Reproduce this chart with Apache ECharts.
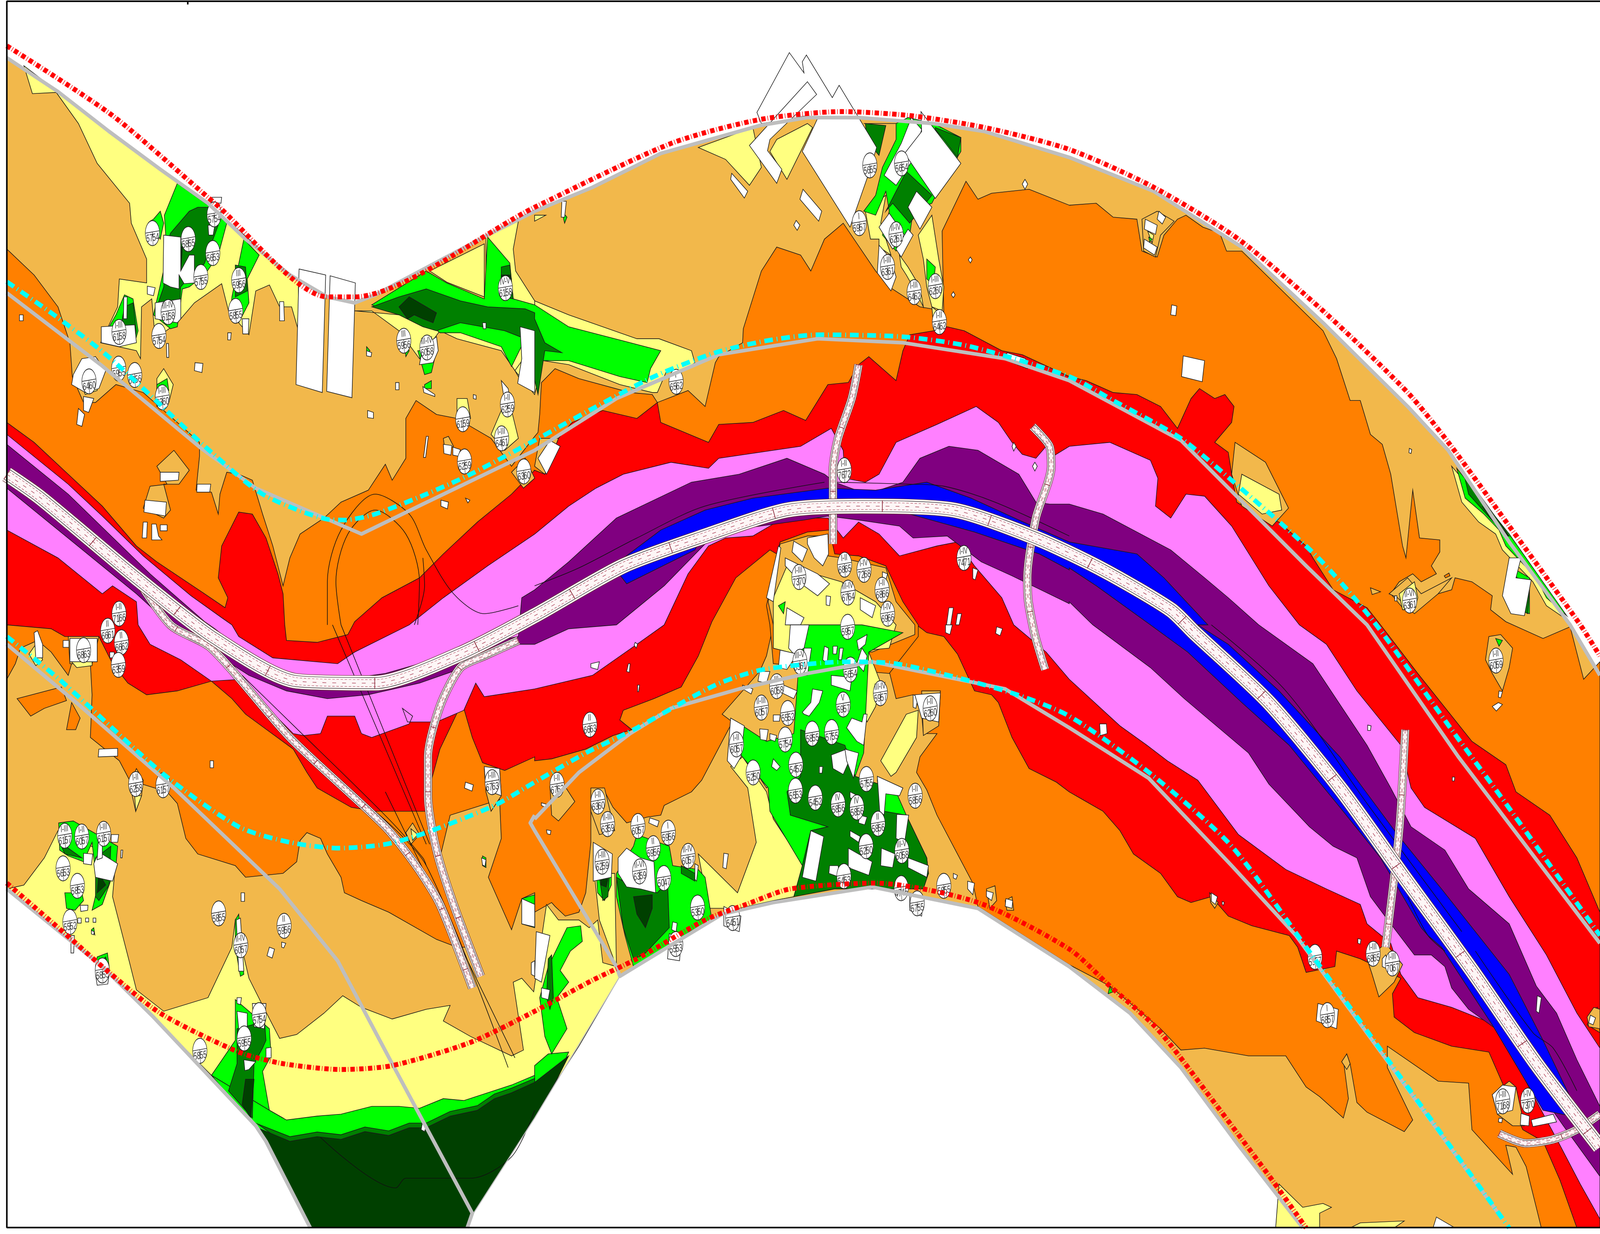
<!DOCTYPE html>
<html><head><meta charset="utf-8">
<style>html,body{margin:0;padding:0;background:#fff;overflow:hidden}#c{width:100vw;height:100vh}</style>
<script src="https://cdn.jsdelivr.net/npm/echarts@6/dist/echarts.min.js"></script>
</head><body><div id="c"></div>
<script>
// Map contours, traced by sheet: a,b,c = upper left/mid/right, d,e,f = lower left/mid/right.
const sandBase=[
 ['a',20,145,170,230,320,330,470,425,610,510,720,600,850,690,960,745,1040,760,1100,740,1320,640,1430,590,1568,530,'b',170,470,370,385,660,315,800,295,950,295,1170,310,1320,330,1568,395,'c',250,480,510,620,750,810,1000,1020,1120,1130,1300,1360,1480,1568,'f',1568,130,1568,1553,690,1553,500,1340,330,1140,180,1000,0,875,'e',1300,730,990,675,700,715,550,745,390,830,250,905,0,1270,'d',1385,1520,1370,1553,910,1553,780,1330,750,1290,600,1150,450,1010,300,880,20,680]
];
const orangeMain=[
 ['a',20,625,100,690,170,770,205,860,212,945,245,1010,280,1010,340,965,420,985,520,1060,585,1110,585,1145,575,1230,620,1235,640,1290,645,1240,665,1185,700,1190,740,1205,770,1290,800,1370,830,1470,850,1400,880,1340,950,1300,1000,1260,1080,1230,1130,1165,1150,1205,1190,1150,1190,1050,1220,1005,1280,1040,1340,1050,1440,1100,1500,1170,1568,1095,
  'b',10,1085,15,1040,20,960,60,925,130,950,280,985,345,990,360,1010,420,990,450,980,500,1020,530,910,540,895,610,860,612,825,665,680,710,620,780,640,810,680,850,600,905,560,1000,680,1040,720,1130,770,1165,775,1200,790,1195,580,1265,455,1300,500,1340,485,1450,475,1568,515,
  'c',0,515,80,510,130,545,200,550,215,630,260,645,280,590,320,550,345,540,395,570,445,585,465,630,510,630,750,830,790,900,830,1005,860,1005,890,1090,925,1115,950,1190,985,1370,995,1400,1015,1230,1035,1350,1095,1355,1095,1385,1070,1420,1085,1440,1040,1460,1015,1440,975,1460,950,1490,990,1530,1020,1535,1090,1490,1130,1480,1140,1450,1190,1460,1250,1495,1245,1530,1290,1560,
  'f',1400,35,1480,5,1520,140,1568,95,1568,1553,1395,1553,1350,1395,1320,1345,1290,1340,1310,1415,1190,1300,1180,1180,1090,1175,940,1085,940,1140,1015,1275,990,1305,880,1255,850,1230,830,1130,820,1105,810,1120,825,1220,810,1270,740,1215,700,1190,640,1110,530,1110,400,1090,330,1095,270,1040,120,930,0,875,
  'e',1300,725,1285,665,1240,590,1180,490,1150,425,1120,380,1130,340,1180,280,1140,280,1135,230,1110,180,1060,190,1040,120,1050,100,700,0,680,80,660,120,550,230,580,250,490,400,460,430,380,465,370,490,330,495,270,510,230,470,200,420,175,430,165,470,165,560,150,690,130,740,90,750,60,725,50,715,0,740,
  'd',1568,690,1530,705,1500,785,1432,650,1470,550,1465,450,1320,490,1290,600,1370,830,1340,830,1280,810,1140,740,1060,710,1010,690,1000,650,960,590,940,550,900,535,880,555,870,610,830,640,720,650,690,620,580,590,545,550,520,460,490,430,380,400,350,350,265,290,270,180,265,100,210,100,200,130,150,70,110,40,60,60,45,100,20,140]
];
const redMain=[
 ['a',20,1060,100,1110,200,1190,300,1270,400,1370,460,1410,600,1490,660,1525,668,1500,640,1450,650,1370,700,1285,740,1290,780,1350,815,1440,830,1490,835,1568,'d',840,40,930,45,1020,25,'a',1040,1560,1120,1500,1230,1450,1300,1390,1400,1310,1500,1240,1568,1180,
  'b',0,1180,30,1190,70,1100,110,1060,200,1030,300,1050,360,1010,370,1060,510,1110,540,1065,640,1060,730,1030,795,1055,860,965,920,960,950,915,980,895,1060,955,1080,880,1100,840,1170,830,1210,820,1260,830,1370,880,1430,890,1568,945,
  'c',0,945,50,955,130,985,200,990,270,1020,320,1075,360,1000,385,975,430,1000,460,990,487,1020,480,1060,430,1110,470,1135,480,1190,495,1260,550,1290,620,1310,700,1370,720,1400,780,1480,880,1525,'f',920,0,1030,125,1190,300,1290,360,1320,430,1420,490,1500,600,1568,740,1568,1553,1500,1553,1450,1430,1400,1330,1340,1300,1240,1100,1130,1085,1020,1050,960,1010,955,950,980,910,860,860,790,840,785,880,700,895,675,830,650,800,540,775,470,750,420,700,360,715,320,700,270,640,190,590,150,530,100,480,40,450,0,430,
  'e',1530,405,1450,370,1400,290,1360,200,1340,180,1290,170,1240,75,1200,30,1150,20,1120,0,'b',1000,1500,850,1460,690,1380,590,1450,520,1560,'e',480,80,430,160,350,190,260,220,250,245,285,270,230,285,150,320,50,345,0,350,
  'd',1568,340,1480,375,1415,355,1385,290,1355,200,1290,320,1265,400,1265,480,1100,480,1030,470,930,420,900,380,860,320,720,230,680,190,620,145,520,170,430,180,375,150,330,100,290,30,190,30,150,10,20,0]
];
const pinkMain=[
 ['a',20,1090,200,1215,300,1295,420,1395,560,1495,650,1550,680,1568,'d',700,30,800,85,990,100,1040,70,1200,0,'a',1300,1500,1430,1420,1568,1340,'b',100,1270,180,1225,260,1190,400,1160,510,1175,540,1150,700,1130,780,1120,870,1075,905,1130,910,1200,970,1210,1010,1190,1060,1110,1180,1065,1295,1020,1360,1060,1400,1110,1430,1140,1470,1150,1500,1120,1520,1145,1568,1120,
  'c',120,1110,240,1155,262,1200,255,1270,300,1300,345,1240,400,1245,480,1320,590,1470,680,1568,'f',680,0,760,50,850,170,980,310,1010,420,1050,470,1200,550,1300,700,1410,850,1500,1000,1568,1090,1568,1530,1510,1440,1450,1340,1260,1030,1130,985,1030,960,980,900,950,820,880,770,860,720,760,680,640,630,500,540,380,400,290,350,230,310,150,260,0,140,
  'e',1500,70,1405,0,'b',1370,1500,1290,1420,1240,1360,1180,1370,1070,1395,1010,1340,950,1310,905,1350,860,1300,790,1300,710,1310,640,1345,560,1350,510,1370,450,1440,380,1568,'e',300,50,170,130,0,165,
  'd',1420,185,1395,150,1360,220,1280,250,1195,250,1180,215,1210,235,1200,255,1090,290,1060,280,1040,235,960,235,940,280,890,285,860,280,780,210,710,140,620,145,530,90,440,50,405,0,'a',400,1510,330,1470,300,1490,170,1400,20,1330]
];
const purpleMain=[
 ['a',20,1115,200,1240,440,1440,600,1560,'d',630,10,760,100,870,135,1010,140,1130,125,1270,90,1400,50,1520,30,'a',1530,1500,1568,1480,'b',100,1410,240,1300,460,1210,600,1190,740,1150,850,1190,880,1210,975,1240,1080,1210,1130,1150,1215,1120,1300,1130,1420,1190,1470,1260,1510,1265,1568,1265,
  'c',100,1290,300,1380,400,1450,470,1500,560,1568,'f',560,0,720,100,880,310,950,420,1010,520,1110,580,1180,680,1300,770,1380,930,1440,1000,1500,1120,1568,1240,1568,1420,1460,1290,1260,1040,1180,990,1130,935,1110,880,1070,850,1020,850,950,770,890,700,850,600,780,570,710,520,590,410,530,330,340,190,240,110,70,0,
  'c',60,1560,0,1510,'b',1568,1515,1400,1445,1310,1410,1210,1345,1110,1350,1070,1320,950,1305,860,1295,790,1305,620,1325,500,1365,380,1470,240,1568,'e',100,10,0,50,
  'd',1520,50,1360,110,1230,150,1080,180,960,190,840,170,730,130,500,0,'a',400,1490,20,1225]
];
const blueMain=[
 ['b',230,1420,370,1330,500,1280,640,1250,860,1225,1000,1230,1150,1210,1280,1250,1420,1305,1568,1360,'c',200,1390,280,1450,410,1568,'f',380,0,470,50,620,170,800,340,970,540,1100,680,1300,900,1400,1070,1510,1270,1400,1250,1250,1030,1100,830,1060,800,1040,780,920,600,800,470,650,310,510,200,350,70,240,0,'c',80,1470,0,1425,'b',1568,1430,1480,1390,1290,1335,1100,1290,800,1280,500,1330,470,1380,270,1465]
];
const orangeIslands=[
 ['b',680,1520,720,1360,800,1335,865,1330,880,1390,950,1395,1030,1420,1080,1510,1125,1568,'e',1125,30,1040,125,700,100,690,0],
 ['d',50,190,180,160,195,195,130,215,90,235],['d',195,270,210,200,235,240,222,270],
 ['f',1530,1030,1560,985,1568,1050],['c',1108,1445,1122,1438,1125,1445,1112,1450]
];
const sandIslands=[
 ['b',685,1510,720,1365,800,1345,860,1345,860,1395,900,1400,1030,1425,1060,1510,1115,1568,'e',1115,25,990,70,780,70,700,60,700,0],
 ['b',15,1100,70,1100,30,1190,0,1170],
 ['a',460,1170,510,1130,555,1180,525,1215,480,1215,500,1280,480,1300,420,1275,440,1220,490,1215],
 ['a',1300,1100,1315,1095,1330,1120,1305,1130],['a',1500,1185,1540,1150,1568,1200,1535,1225],
 ['d',1420,370,1465,370,1470,440,1440,480,1425,430],['d',1190,535,1210,510,1230,540,1205,565],
 ['d',200,30,290,30,270,100,205,100],['d',380,410,400,370,420,400,415,440,398,480],
 ['e',1135,170,1190,170,1185,260,1140,285],['e',45,415,70,390,118,455,70,505,50,490],
 ['e',165,420,205,420,235,530,190,540,165,480],['e',1325,680,1350,672,1355,710,1335,730],['e',1380,710,1400,700,1405,735,1385,735],
 ['f',1230,90,1240,30,1275,25,1310,60,1300,110,1280,170,1250,125],
 ['f',880,860,935,820,985,875,960,920,915,958,895,900],['f',415,690,440,715,430,730,418,715],
 ['f',805,1125,820,1105,830,1130,820,1145],['f',1530,1010,1550,985,1568,990,1568,1040,1535,1035],
 ['f',1250,1210,1300,1175,1320,1190,1345,1290,1310,1290,1265,1260],
 ['c',490,1110,580,1160,648,1275,600,1320,510,1270,480,1190],['c',215,550,260,530,310,555,270,590,255,645,220,630],
 ['c',945,1490,1000,1450,1040,1490,1130,1450,1090,1490,1020,1540,970,1500],['c',890,1475,920,1485,895,1492]
];
const yellowAreas=[
 ['a',70,165,95,235,165,232,230,310,285,410,380,510,385,560,430,650,430,710,350,700,345,770,295,860,400,880,412,900,415,770,445,750,455,850,520,810,570,760,650,712,670,780,730,840,750,730,790,715,820,770,855,770,875,830,875,700,850,690,610,510,320,330,170,230],
 ['a',1260,680,1420,612,1420,745,1310,708],['a',1425,590,1520,555,1505,625,1512,680,1568,755,1568,775,1425,745],
 ['a',1040,780,1090,780,1170,830,1230,900,1290,830,1340,850,1470,880,1510,930,1530,960,1530,860,1350,800,1240,800,1170,790],
 ['a',1568,755,'b',100,790,300,850,365,850,460,880,470,910,430,935,390,925,360,985,345,985,250,965,100,915,25,905,0,990,'a',1510,930,1568,860],
 ['a',1340,1000,1370,1000,1380,1050,1340,1060],['a',1440,1090,1470,1030,1500,1030,1520,1100,1480,1130],['a',460,950,480,925,508,965,495,1010,460,1020],
 ['a',225,930,280,895,285,980,250,990],
 ['d',20,680,70,670,130,600,170,530,340,600,330,700,380,870,400,940,480,995,610,960,680,830,690,760,730,910,770,980,820,1065,870,1055,950,1000,1005,955,1060,985,1150,1015,1250,990,1320,980,1300,1020,1380,1060,1500,1110,1535,1095,1505,920,1530,910,1565,945,'e',35,720,70,760,130,760,160,780,185,760,200,870,240,880,250,905,130,1085,60,1180,0,1270,'d',1500,1250,790,1310,755,1290,620,1160,450,1010,300,880],
 ['d',85,75,105,50,125,90,105,105],['d',395,440,415,440,398,480],['d',210,95,270,95,270,105,225,110],['d',1205,525,1225,540,1210,555],
 ['b',710,350,800,310,815,320,740,450,690,380],['b',480,370,640,320,665,420,630,465,560,400],['b',0,540,33,540,0,555],
 ['b',970,530,1030,490,1015,560,1045,640,1010,620,1010,600,985,600],['b',1070,640,1095,670,1130,720,1140,770,1120,735,1090,690,1075,670],['b',1125,590,1165,540,1185,650,1200,720,1195,780,1165,770,1150,720,1140,650],['b',1165,770,1195,790,1200,830,1170,820],
 ['b',700,1500,740,1420,900,1460,1000,1510,1060,1568,'e',1040,60,790,80,700,60,700,0],
 ['e',575,365,625,420,650,560,595,690,480,590,510,730,600,730,700,710,760,700,790,620,700,500,680,430,610,340],
 ['e',1015,350,1090,230,1125,220,1120,290,1060,380,1045,390],['e',175,640,235,640,240,880,190,760],['e',610,260,650,290,700,390,680,420,620,340],
 ['e',980,70,1015,150,1000,210,975,250,950,200],
 ['c',510,1190,620,1240,628,1280,570,1290,500,1240],['c',232,580,250,590,245,610],['c',975,1490,1020,1460,1030,1500,1020,1530,985,1530],
 ['c',1130,1170,1300,1340,1470,1555,1410,1520,1370,1460,1280,1380,1260,1340,1210,1310,1160,1260],
 ['f',610,1553,620,1440,690,1500,750,1490,775,1500,740,1515,740,1553],['f',830,1553,860,1540,990,1535,960,1553]
];
const lightGreenAreas=[
 ['a',520,460,610,515,665,560,640,640,600,690,555,720,535,725,520,820,500,825,450,790,490,640,482,540],
 ['a',715,600,760,640,725,700,730,760,700,810,675,800,680,745],['a',450,550,470,530,480,560,470,600,440,555],
 ['a',340,790,365,740,390,750,405,830,395,860,310,835],['a',262,895,285,900,285,915,255,910],['a',460,965,490,950,495,980,460,985],
 ['a',1090,765,1250,680,1310,710,1420,750,1430,595,1495,660,1505,750,1568,765,'b',100,820,280,860,370,880,340,925,330,960,250,945,100,905,25,905,0,920,'a',1540,850,1500,920,1470,870,1350,835,1290,835,1240,800,1190,795],
 ['a',1075,870,1085,880,1075,888],['a',1245,965,1265,955,1265,975,1245,975],['a',1185,850,1200,880,1190,895],['a',1225,880,1280,880,1265,935,1245,940],
 ['b',965,310,1060,310,1060,350,1020,420,1000,490,965,530,1000,540,1030,480,1040,530,1020,590,1060,630,1100,590,1110,530,1165,510,1200,450,1250,380,1250,345,1170,310,1095,295,1060,310],
 ['b',1150,650,1175,670,1170,715,1150,700],['b',80,530,95,545,88,560],['b',715,1520,735,1510,730,1540],
 ['d',172,510,215,505,345,570,340,620,300,720,270,735,285,680,270,560,245,610,200,595,175,580],['d',190,690,240,690,245,710,220,735,195,730],['d',285,855,315,845,320,880,280,880],['d',690,760,700,745,715,900,705,905,690,830],['d',268,785,275,780,278,798],['d',1415,595,1425,600,1425,625,1415,620],
 ['d',690,965,790,1040,795,1110,770,1150,790,1250,830,1270,755,1290,620,1160,690,1070],['d',1530,705,1568,695,1568,780,1530,770],
 ['d',620,1160,755,1300,850,1345,1000,1335,1140,1325,1250,1305,1400,1265,1500,1220,1568,1190,1568,1160,1500,1185,1430,1205,1360,1225,1300,1220,1230,1245,1170,1240,1090,1240,1000,1260,930,1265,840,1275,790,1250],
 ['e',0,1135,40,1105,100,1100,60,1180,0,1210],
 ['e',40,880,95,780,135,775,140,815,105,840,75,890,100,920,65,960,95,1040,50,1105,30,1060,15,960],
 ['e',610,260,680,300,760,280,780,40,790,0,960,0,1080,20,980,70,965,330,940,390,780,390,745,430,750,490,860,520,810,530,785,620,690,480,685,420,600,330],
 ['e',240,640,290,570,300,540,395,570,405,620,480,630,500,650,520,760,455,790,390,830,290,880,265,800,240,700],['e',175,570,225,610,225,670,205,710,185,690],
 ['e',1005,400,1060,430,1090,490,1150,600,1155,640,1100,580,1020,490],['c',1145,1175,1300,1340,1470,1545,1410,1500,1380,1450,1290,1370,1270,1330,1225,1290,1170,1250],
 ['c',1300,1420,1360,1450,1360,1540,1300,1520],['c',235,595,245,600,238,608],['f',1260,35,1280,40,1270,55],['f',120,930,130,945,115,950]
];
const greenAreas=[
 ['a',500,585,555,530,580,520,610,520,640,565,625,600,600,660,570,700,540,710,530,720,525,800,460,770,480,720,490,610],['a',690,665,720,670,725,730,690,745],
 ['a',365,770,390,760,400,830,395,860,350,840],['a',1090,770,1170,745,1250,725,1350,755,1430,770,1540,775,1568,785,'b',0,800,30,860,80,885,30,880,10,990,'a',1540,850,1480,830,1350,810,1280,830,1240,820,1170,790],['a',1470,670,1495,665,1505,750,1470,745],
 ['b',970,310,1030,315,1010,390,975,355],['b',1175,320,1250,345,1240,395,1200,350,1175,325],['b',1030,530,1090,430,1165,490,1100,560,1050,510],
 ['d',175,560,200,575,240,600,190,590],['d',280,600,325,570,320,670,290,710,280,700],['d',290,870,310,855,318,880],
 ['d',695,1040,740,1030,775,1010,780,1070,770,1090,745,1130,740,1270,670,1200,695,1130],
 ['d',755,1285,850,1318,930,1306,1000,1313,1070,1293,1140,1303,1200,1283,1250,1283,1320,1253,1400,1238,1450,1208,1500,1193,1568,1168,1568,1190,1500,1220,1400,1265,1250,1305,1140,1325,1000,1335,850,1345],
 ['e',780,270,910,310,940,390,1010,410,1025,480,1090,490,1150,600,1155,640,1140,680,880,680,760,700,785,620,810,530,860,520,750,490,740,430,780,390],
 ['e',240,650,280,670,360,690,390,660,395,780,320,850,290,860,260,780],['e',190,650,220,640,215,700,200,710],['e',40,860,50,850,55,960,45,990,35,960],['e',430,620,470,640,470,660,430,640],
 ['c',1165,1185,1300,1345,1275,1330,1180,1240],['c',1300,1430,1360,1480,1355,1540,1310,1520]
];
const darkGreenAreas=[
 ['a',500,610,535,620,530,680,505,665],['a',1170,770,1200,745,1280,785,1270,810,1240,800,1215,790,1195,800],['a',1470,690,1495,690,1500,700,1470,700],
 ['d',720,1170,745,1170,735,1270,710,1235],['d',290,640,310,670,285,690],
 ['d',755,1295,850,1330,930,1318,1000,1325,1070,1305,1140,1315,1200,1295,1250,1295,1320,1265,1400,1250,1450,1220,1500,1205,1568,1178,'e',100,1110,60,1180,0,1270,'d',1385,1520,1370,1553,910,1553,780,1330],
 ['e',290,700,345,695,345,730,325,780,300,745],['e',195,650,215,655,210,675,195,670],
 ['c',1220,1270,1300,1345,1285,1345]
];
const mainRoad=[['a',20,1190,120,1250,400,1450,'d',630,35,870,145,1100,150,1350,75,'b',0,1545,260,1420,500,1345,740,1280,960,1270,1230,1280,1470,1350,'c',100,1430,300,1530,'f',370,20,590,200,800,420,990,650,1190,890,1380,1130,1568,1345]];
const ramps=[
 ['a',400,1450,'d',500,0,620,60,850,290,1130,520,1220,620,1290,720,1385,935],
 ['d',1520,40,1420,80,1350,110,1290,210,1255,340,1255,440,1280,580,1330,720,1410,905],
 ['b',950,915,930,1000,890,1100,875,1180,875,1365],
 ['b',1460,1070,1510,1120,1515,1170,1470,1300,1445,1450,1448,1510,'e',1468,30,1497,115],
 ['f',993,270,975,530,935,830],
 ['f',1270,1310,1350,1335,1430,1325,1500,1300,1568,1260]
];
const thinLines=[
 ['a',960,1568,960,1460,1000,1330,1100,1240,1200,1290,1250,1380,1330,1490,1420,1540,1520,1520],
 ['a',1000,1568,985,1460,1020,1340,1100,1280,1190,1340,1230,1460,1225,1568],['a',1240,1400,1245,1470,1215,1568],
 ['d',975,0,1250,565],['d',1000,0,1260,565],['d',1100,480,1250,620,1490,1140],['d',1130,430,1510,1115],['d',710,130,850,250,1140,500,1240,600,1250,620],
 ['d',940,1320,1160,1450,1190,1425,1380,1425,1500,1370,1568,1250],
 ['b',0,1470,130,1425,300,1350,500,1270,850,1210],['b',880,1210,1100,1215,1200,1220,1350,1260,1568,1345],['f',420,0,640,170,880,460,1160,790],['f',1000,700,1060,800,1110,840],['f',1200,840,1370,1050,1430,1090,1500,1200]
];
const greyLines=[
 ['a',20,145,170,230,320,330,470,425,610,510,720,600,850,690,960,745,1040,760,1100,740,1320,640,1430,590,1568,530,'b',170,470,370,385,660,315,800,295,950,295,1170,310,1320,330,1568,395,'c',250,480,510,620,750,810,1000,1020,1120,1130,1300,1360,1480,1568,'f',1568,130],
 ['a',20,735,295,915,590,1125,750,1225,1060,1340,1240,1265,1568,1130,'b',240,1000,540,890,830,850,1080,860,1380,900,1568,955,'c',330,1105,700,1420,880,1568,'f',1150,340,1568,820],
 ['d',20,50,230,205,510,420,820,680,990,865,1150,1130,1385,1515,1370,1553],
 ['d',1568,490,1555,510,1568,530,'e',240,880,250,905,390,830,550,745,700,715,990,675,1300,730,1568,880,'f',180,1000,330,1140,500,1340,690,1553],
 ['e',0,500,130,380,280,280,400,215,600,165,800,125,990,95,1380,165,1568,265,'f',235,395,480,620,670,800,1280,1530],
 ['d',20,680,300,880,450,1010,600,1150,750,1290,780,1330,910,1553]
];
const thinGrey=[['d',1385,1520,'e',0,1270,250,905]];
const cyanLines=[
 ['a',20,707,150,785,290,875,370,935,500,1040,620,1135,770,1240,960,1303,1010,1305,1100,1290,1250,1240,1380,1190,1568,1105,'b',160,1030,350,945,530,885,680,855,830,840,1080,845,1280,870,1568,945,'c',130,1005,330,1100,500,1220,730,1395,900,1560,'f',1130,270,1290,460,1568,800],
 ['d',20,30,180,145,480,385,700,520,850,560,990,575,1130,565,1250,535,1450,465,1568,405,'e',150,330,290,270,530,155,670,115,920,95,1060,100,1380,170,1568,235,'f',250,390,480,570,700,830,950,1130,1300,1553]
];
const redDashLines=[
 ['a',20,115,330,290,630,510,960,745,1040,745,1568,520,'b',400,360,660,300,900,280,1100,290,1320,320,1568,375,'c',250,470,500,600,750,780,1000,985,1120,1110,1300,1320,1510,1568,'f',1568,80],
 ['d',20,665,210,810,300,880,470,1000,700,1100,830,1130,1000,1145,1150,1135,1380,1075,1568,995,'e',170,915,300,860,500,760,620,720,750,680,1000,665,1300,715,1568,835,'f',120,930,260,1040,420,1220,600,1430,700,1553]
];
const frameLines=[[1568,0.7,6.7,0.7,6.7,686,1568,686],[184,0.7,184,2.5]];
const buildings=[
 ['a',877,675,955,690,945,985,868,965],['a',968,692,1042,710,1032,998,958,982],
 ['a',480,590,530,595,530,680,555,640,570,640,570,710,540,712,525,690,525,725,500,720,478,710],['a',455,760,530,750,530,800,520,810,455,800],['a',297,820,395,815,400,860,350,870,297,860],['a',363,745,373,745,372,800,362,800],
 ['a',240,900,280,895,310,930,290,975,250,985,210,965,215,940],['a',245,995,275,1000,260,1035,245,1030],['a',230,1025,248,1040,240,1070,225,1065],
 ['a',420,1310,432,1310,430,1350,417,1350],['a',445,1315,458,1315,465,1345,475,1355,445,1355],['a',470,1317,490,1317,490,1332,470,1332],['a',425,1255,488,1260,485,1295,422,1285],['a',470,1185,525,1185,523,1205,470,1208],['a',578,1215,618,1215,615,1235,577,1235],['a',572,910,595,912,592,935,570,930],['a',820,757,832,757,834,805,820,805],['a',710,800,730,800,728,838,712,838],['a',668,835,678,835,676,853,668,853],['a',57,790,68,790,68,805,57,805],['a',432,718,455,722,450,742,432,738],['a',488,862,494,862,495,897,489,897],
 ['a',1525,820,1568,830,1568,985,1518,962,1530,900],['a',1160,960,1170,960,1170,978,1160,978],['a',1300,1115,1325,1118,1322,1142,1302,1138],['a',1328,1122,1350,1128,1345,1145,1328,1142],['a',1293,1255,1315,1260,1312,1277,1293,1270],['a',1365,1250,1378,1255,1372,1262],['a',1250,1095,1256,1095,1248,1148,1242,1148],['a',1415,810,1425,810,1425,825,1417,825],['a',1388,990,1396,992,1396,1002,1388,1000],['a',622,495,650,495,648,510,622,508],['a',1075,880,1090,885,1088,895,1075,893],['a',1078,1030,1095,1035,1095,1050,1078,1048],['a',1240,970,1275,990,1275,995,1243,985],['a',1470,955,1490,975,1500,1020,1480,1010],['a',610,565,630,565,625,590,612,590],['a',1240,870,1280,845,1285,880,1270,910,1230,915],
 ['b',652,282,747,132,790,183,785,155,797,138,873,245,893,214,1003,370,978,440,925,570,785,380,830,297,800,290,740,300,665,310],['b',630,365,800,205,827,237,690,350,683,378,725,425,710,460],
 ['b',1105,295,1135,325,1110,400,1060,465,1025,440,1075,360],['b',1133,280,1250,410,1175,498,1085,385,1135,330],['b',1120,480,1165,520,1130,575,1095,520],['b',1040,535,1085,590,1050,625,1010,570],['b',1095,575,1110,590,1075,645,1060,625],['b',1010,615,1045,650,1060,695,1045,730,1005,685],
 ['b',578,435,625,480,615,497,575,450],['b',787,475,842,530,833,555,778,500],['b',767,553,778,565,770,578,760,565],['b',80,505,93,505,88,545,78,545],['b',1438,450,1446,462,1438,475,1430,462],['b',1278,645,1283,652,1278,660,1272,652],['b',1228,732,1233,740,1228,747,1222,740],['b',1405,1110,1412,1120,1405,1132,1400,1120],['b',1467,1160,1474,1170,1467,1182,1460,1170],['b',45,1105,75,1120,35,1190,10,1150],['b',1385,885,1440,900,1445,925,1385,905],['b',1285,1425,1300,1430,1292,1455,1285,1452],
 ['b',715,1370,722,1375,700,1510,680,1500],['b',760,1358,800,1378,785,1410,755,1385],['b',800,1350,860,1340,862,1390,845,1420,820,1400,800,1365],['b',735,1400,830,1440,865,1465,830,1495,790,1470,735,1420],['b',955,1500,1000,1520,990,1550,955,1530],['b',1215,1525,1228,1525,1220,1568,1208,1568],['b',1240,1540,1252,1540,1245,1568,1235,1568],['b',855,1495,868,1497,865,1520,855,1518],['b',740,1525,790,1550,780,1568,735,1568],['b',1020,1435,1035,1440,1030,1455,1020,1450],
 ['e',750,0,805,0,790,60,760,75,745,60],['e',720,65,770,75,740,115,715,110],['e',790,60,812,60,800,130,785,130],['e',660,120,690,120,680,150,655,145],['e',730,155,770,170,760,190,725,175],['e',700,232,720,232,718,248,700,248],['e',660,268,685,270,680,298,662,295],['e',690,280,710,285,705,300,690,295],['e',850,55,862,60,858,100,845,90],['e',875,55,888,55,885,75,875,75],['e',895,60,905,60,900,90,892,90],['e',945,40,975,25,970,50,950,65],['e',960,60,975,80,965,120,945,100],['e',965,230,975,230,965,310,945,300,915,265,930,240,960,250],['e',790,230,805,235,835,200,845,170,815,165,810,200,785,225],['e',870,130,930,135,925,170,870,155],['e',870,335,915,320,925,345,905,385,875,370],['e',910,320,950,330,935,395,915,350],['e',575,240,615,260,605,340,585,370,565,350],['e',700,345,720,365,710,375,695,365],['e',835,365,845,365,843,382,835,382],['e',1005,390,1080,420,1070,440,1030,435,1025,490,1012,480],['e',1062,488,1097,490,1085,560,1060,550],['e',810,530,848,545,825,660,785,650],['e',920,575,990,610,980,645,920,625],['e',865,620,890,620,895,650,863,640],['e',1017,575,1057,590,1050,625,1015,620],['e',1095,600,1155,620,1150,650,1095,625],['e',925,430,960,445,955,460,925,445],['e',953,490,975,495,968,515,950,510],['e',925,530,955,545,950,560,925,545],['e',1110,180,1125,185,1118,215,1110,212],['e',555,588,568,590,562,628,552,625],['e',610,155,640,165,635,178,610,165],['e',1228,640,1240,645,1236,655,1228,652],['e',1270,660,1290,665,1285,695,1270,680],['e',1325,685,1345,690,1340,710,1325,700],['e',1382,705,1402,710,1400,730,1380,725],['e',1205,0,1225,0,1218,25,1205,20],['e',1355,5,1372,10,1365,28,1352,22],['e',275,100,280,100,278,122,270,120],['e',302,155,308,155,305,172,302,172],['e',165,100,190,95,185,115,165,110],['e',295,45,302,50,298,60,292,52],['e',20,458,35,462,32,470,20,465],['e',35,528,48,530,46,540,37,538],['e',338,497,365,505,360,520,335,510],['e',245,600,270,575,310,600,350,610,355,690,310,680,270,675,245,640],['e',172,560,228,590,225,650,172,660],['e',405,765,418,768,415,790,402,785],['e',5,790,45,800,20,920,0,910],['e',20,935,45,940,40,965,20,960],['e',1100,690,1140,700,1135,750,1100,735],['e',555,725,605,750,600,790,555,775],['e',395,795,430,810,425,865,390,860],['e',1115,180,1190,175,1185,250,1135,240],['e',895,620,925,625,925,670,890,665],['e',470,615,480,620,475,660,470,655],
 ['d',290,320,345,318,345,338,288,340],['d',616,350,626,350,626,368,616,368],['d',707,690,717,690,717,712,707,712],['d',790,830,805,835,798,858,783,852],['d',826,817,838,820,832,832,826,830],['d',693,760,705,755,715,892,700,892],['d',245,588,272,590,268,618,245,615],['d',290,585,345,615,330,660,280,650,275,615],['d',300,560,300,600,285,605,288,560],['d',326,540,348,540,345,560,326,560],['d',355,580,360,580,358,600,354,600],['d',235,722,258,722,257,735,237,738],['d',228,755,238,755,238,768,228,768],['d',251,755,260,755,260,765,251,765],['d',273,755,281,755,281,766,273,766],['d',268,787,276,790,275,798,268,796],['d',185,40,202,40,202,58,185,58],['d',205,35,285,35,285,95,205,95],['d',100,20,110,15,125,50,125,85,105,85],['d',322,70,335,70,335,85,322,85],['d',695,960,708,960,705,978,695,975],['d',695,995,725,1000,725,1040,700,1040],['d',715,1120,750,1125,730,1145,718,1148],['d',780,1090,795,1088,795,1115,780,1115],['d',740,975,780,975,775,1040,745,1035],['d',1365,405,1388,412,1384,428,1362,420],['d',1530,705,1568,720,1568,778,1530,770],['d',1558,870,1568,865,1568,905,1558,900],['d',1412,600,1425,605,1422,622,1415,618],['d',1238,1285,1250,1290,1245,1305,1235,1300],['d',208,800,218,800,216,845,208,845],['d',1420,365,1465,370,1470,440,1425,425],['d',280,900,320,900,316,925,285,928],
 ['f',90,255,110,255,112,280,92,285],['f',882,258,892,260,890,272,882,272],['f',1132,392,1139,392,1138,402,1132,402],['f',420,690,438,700,432,720,420,712],['f',452,712,458,714,456,722,452,720],['f',853,808,862,810,860,822,853,820],['f',1383,955,1395,960,1388,1000,1380,995],['f',1540,1005,1555,1012,1548,1030,1535,1025],['f',735,975,795,990,790,1040,730,1020],['f',1250,1210,1280,1185,1320,1190,1310,1250,1265,1260],['f',1335,1258,1360,1265,1358,1290,1333,1288],['f',1365,1275,1430,1260,1440,1280,1370,1292],['f',1270,1270,1280,1272,1278,1282,1268,1280],['f',1075,1553,1140,1553,1085,1525],['f',1268,200,1280,205,1262,222,1250,210],['f',1270,170,1280,172,1275,188,1268,186],['f',925,860,935,850,950,890,925,880],
 ['c',225,550,260,565,255,588,222,575],['c',265,530,285,545,275,562,260,550],['c',222,600,260,620,252,640,220,622],['c',303,765,318,768,315,792,300,790],['c',337,893,400,905,393,958,332,945],['c',1005,1125,1012,1128,1010,1138,1004,1136],['c',1300,1400,1335,1400,1320,1450,1365,1455,1345,1545,1305,1540,1280,1495],['c',962,1495,968,1495,968,1508,962,1508]
];
const levelCircles=[
 ['a',447,585,'',57,54],['a',628,538,'',57,54],['a',552,600,'',58,55],['a',624,635,'',56,53],['a',589,695,'',57,55],['a',700,703,'III',59,56],['a',691,780,'',58,55],['a',493,783,'III-IV',61,58],['a',466,843,'',57,54],['a',349,833,'I-III',61,58],['a',348,925,'',59,55],['a',395,941,'',60,56],['a',261,957,'',64,60],['a',476,997,'I-III',63,60],['a',1184,855,'III',59,56],['a',1252,872,'III-IV',60,58],['a',1482,723,'IV-V',61,58],['a',1357,1052,'',61,59],['a',1488,1015,'I-II',62,59],['a',1471,1100,'I-III',64,61],['a',1362,1158,'',62,59],['a',1536,1183,'',63,60],['a',349,1540,'I-II',71,66],
 ['b',415,958,'I',65,62],['b',1187,808,'I-II',64,62],['b',1175,718,'I-III',62,60],['b',1113,733,'I-III',64,62],['b',1035,670,'I-III',63,61],['b',1060,588,'II-IV',62,61],['b',952,560,'I',59,57],['b',983,415,'',56,55],['b',1076,410,'',56,54],['b',908,1180,'I-II',76,72],['b',1259,1400,'I-IV',74,71],['b',775,1448,'I-III',73,70],['b',909,1417,'I-II',68,65],['b',966,1430,'I-IV',72,68],['b',919,1487,'III-IV',67,64],['b',1019,1480,'I-II',68,66],['b',1035,1540,'I-IV',69,66],
 ['c',1006,1507,'II-VI',63,61],
 ['d',316,15,'II',66,61],['d',356,45,'II',66,62],['d',347,103,'',63,59],['d',245,65,'',68,63],['d',398,410,'I-II',62,58],['d',478,413,'',61,57],['d',190,543,'I-III',61,57],['d',240,545,'I-II',60,57],['d',304,538,'I-III',61,57],['d',185,627,'',56,53],['d',227,672,'',58,53],['d',205,765,'',55,52],['d',641,743,'',58,55],['d',833,775,'II',59,56],['d',706,825,'II-IV',60,57],['d',300,890,'',58,55],['d',760,1005,'',57,54],['d',716,1065,'',59,55],['d',586,1097,'',58,55],['d',1443,405,'I-III',67,63],
 ['e',778,95,'III-V',63,61],['e',918,5,'',59,57],['e',926,115,'',56,54],['e',710,158,'III',60,58],['e',665,213,'II-III',60,57],['e',742,227,'',55,52],['e',905,205,'V',59,57],['e',1014,176,'III-IV',59,57],['e',1160,215,'I-II',62,60],['e',735,295,'',57,54],['e',814,280,'',58,55],['e',871,276,'',57,55],['e',592,308,'I-II',60,57],['e',641,380,'',52,50],['e',766,360,'',54,52],['e',973,397,'',57,55],['e',1116,440,'I-II',58,56],['e',765,427,'',55,53],['e',823,445,'',54,52],['e',890,462,'IV',58,56],['e',945,470,'IV',58,56],['e',1007,512,'II',58,56],['e',972,570,'',52,50],['e',1077,582,'III-V',60,58],['e',162,257,'II',66,63],['e',66,412,'I-II',67,63],['e',186,455,'I-II',63,60],['e',214,513,'II-III',63,59],['e',303,518,'I',60,57],['e',392,535,'I',59,56],['e',348,575,'II',59,56],['e',450,595,'II-IV',60,57],['e',198,610,'I-III',62,59],['e',308,635,'II-VI',63,59],['e',379,652,'',50,47],['e',478,728,'',53,50],['e',414,822,'',55,53],['e',581,755,'',54,51],['e',907,647,'',54,53],['e',1075,678,'',47,45],['e',1122,717,'',57,55],['e',1200,672,'',58,55],
 ['f',1261,92,'I-II',60,59],['f',726,855,'',59,57],['f',898,847,'I-III',68,65],['f',955,872,'I-III',70,67],['f',763,1005,'I',58,57],['f',1281,1227,'I-III',71,68],['f',1355,1225,'I-IV',73,70]
];

const el=document.getElementById('c');
const W=el.clientWidth,H=el.clientHeight;
const sx=W/7183,sy=H/3159,kw=(sx+sy)/2;
const sheets={a:[0,0,.3342,.2227],b:[523.9,0,.3342,.2227],c:[1047.8,0,.3317,.2227],d:[0,349.2,.3342,.217],e:[523.9,349.2,.3342,.217],f:[1047.8,349.2,.3317,.217]};
function toMap(flat){
  const out=[];let s=null,i=0;
  while(i<flat.length){
    if(typeof flat[i]==='string'){s=sheets[flat[i]];i++;continue;}
    out.push([s[0]+flat[i]*s[2],s[1]+flat[i+1]*s[3]]);i+=2;
  }
  return out;
}
function polygons(list,fill,stroke,lw){
  const shapes=list.map(toMap);
  return {type:'custom',coordinateSystem:'cartesian2d',clip:true,silent:true,animation:false,
    data:shapes.map((_,i)=>[i]),
    renderItem(params,api){
      const pts=shapes[params.dataIndex].map(p=>api.coord(p));
      return {type:'polygon',shape:{points:pts},style:{fill:fill,stroke:stroke||'#1a1a1a',lineWidth:(lw==null?2:lw)*kw}};
    }};
}
function lines(list,color,width,dash,smooth){
  const d=Array.isArray(dash)?dash.map(v=>v*Math.max(sx,.7)):(dash||'solid');
  return list.map(f=>({type:'line',data:toMap(f),showSymbol:false,symbol:'none',silent:true,animation:false,clip:true,
    smooth:smooth||false,lineStyle:{color:color,width:width*kw,type:d,cap:'butt',join:'round'}}));
}
function road(list,w){
  const S=.25;
  return [].concat(
    lines(list,'#5a2a2a',w+3,null,S),
    lines(list,'#fdf6f6',w,null,S),
    lines(list,'#222',w*.78,null,S),
    lines(list,'#fdf6f6',w*.78-3,null,S),
    lines(list,'#b5566a',w*.5,[9,6],S),
    lines(list,'#fdf6f6',w*.5-3,null,S),
    lines(list,'#b5566a',2,[14,22],S),
    lines(list,'#8a2a3a',w*.78,[2.5,w*7+60],S)
  );
}
const frameSeries=frameLines.map(f=>({type:'line',data:f.reduce((a,v,i)=>{if(i%2===0)a.push([v,f[i+1]]);return a;},[]),symbol:'none',silent:true,animation:false,clip:false,lineStyle:{color:'#000',width:5*kw}}));
const circleSeries={type:'custom',coordinateSystem:'cartesian2d',clip:true,silent:true,animation:false,
  data:levelCircles.map((_,i)=>[i]),
  renderItem(params,api){
    const c=levelCircles[params.dataIndex],s=sheets[c[0]];
    const p=api.coord([s[0]+c[1]*s[2],s[1]+c[2]*s[3]]);
    const face=size=>size+'px "Liberation Sans Narrow","Liberation Sans",sans-serif';
    const txt=(t,x,y,size)=>({type:'text',x:x,y:y,style:{text:String(t),font:face(size),fill:'#333',align:'center',verticalAlign:'middle'}});
    return {type:'group',x:p[0],y:p[1],scaleX:sx,scaleY:sy,children:[{type:'group',rotation:.1,children:[
      {type:'circle',shape:{cx:0,cy:0,r:32},style:{fill:'#fff',stroke:'#222',lineWidth:2}},
      {type:'line',shape:{x1:-31,y1:-3,x2:31,y2:-3},style:{stroke:'#222',lineWidth:1.6}},
      {type:'line',shape:{x1:0,y1:-3,x2:0,y2:31},style:{stroke:'#222',lineWidth:1.6}},
      txt(c[3],0,-17,24),txt(c[4],-14,13,27),txt(c[5],14,13,27)
    ]}]};
  }};
const series=[
  polygons(sandBase,'#F2B84B'),
  polygons(orangeMain,'#FF8000'),
  polygons(redMain,'#FF0000'),
  polygons(pinkMain,'#FF80FF'),
  polygons(purpleMain,'#800080'),
  polygons(blueMain,'#0000FF'),
  polygons(orangeIslands,'#FF8000'),
  polygons(sandIslands,'#F2B84B'),
  polygons(yellowAreas,'#FFFF80'),
  polygons(lightGreenAreas,'#00FF00'),
  polygons(greenAreas,'#008000'),
  polygons(darkGreenAreas,'#004000'),
  ...lines(thinLines,'#111',2,null,.3),
  ...road(ramps,25),
  ...road(mainRoad,48),
  polygons(buildings,'#fff','#222',2),
  circleSeries,
  ...lines(thinGrey,'#c0c0c0',3),
  ...lines(greyLines,'#BEBEBE',12),
  ...lines(cyanLines,'#00FFFF',15,[32,14,3,14],.25),
  ...lines(redDashLines,'#FF0000',16,[16,7,2,7],.25),
  ...frameSeries
];
const chart=echarts.init(el,null,{renderer:'canvas'});
chart.setOption({animation:false,backgroundColor:'#fff',
  grid:{left:(6.7/1568*100)+'%',right:0,top:(0.7/689.6*100)+'%',bottom:(3.6/689.6*100)+'%',containLabel:false},
  xAxis:{type:'value',min:6.7,max:1568,show:false},
  yAxis:{type:'value',min:.7,max:686,inverse:true,show:false},
  series});
</script></body></html>
